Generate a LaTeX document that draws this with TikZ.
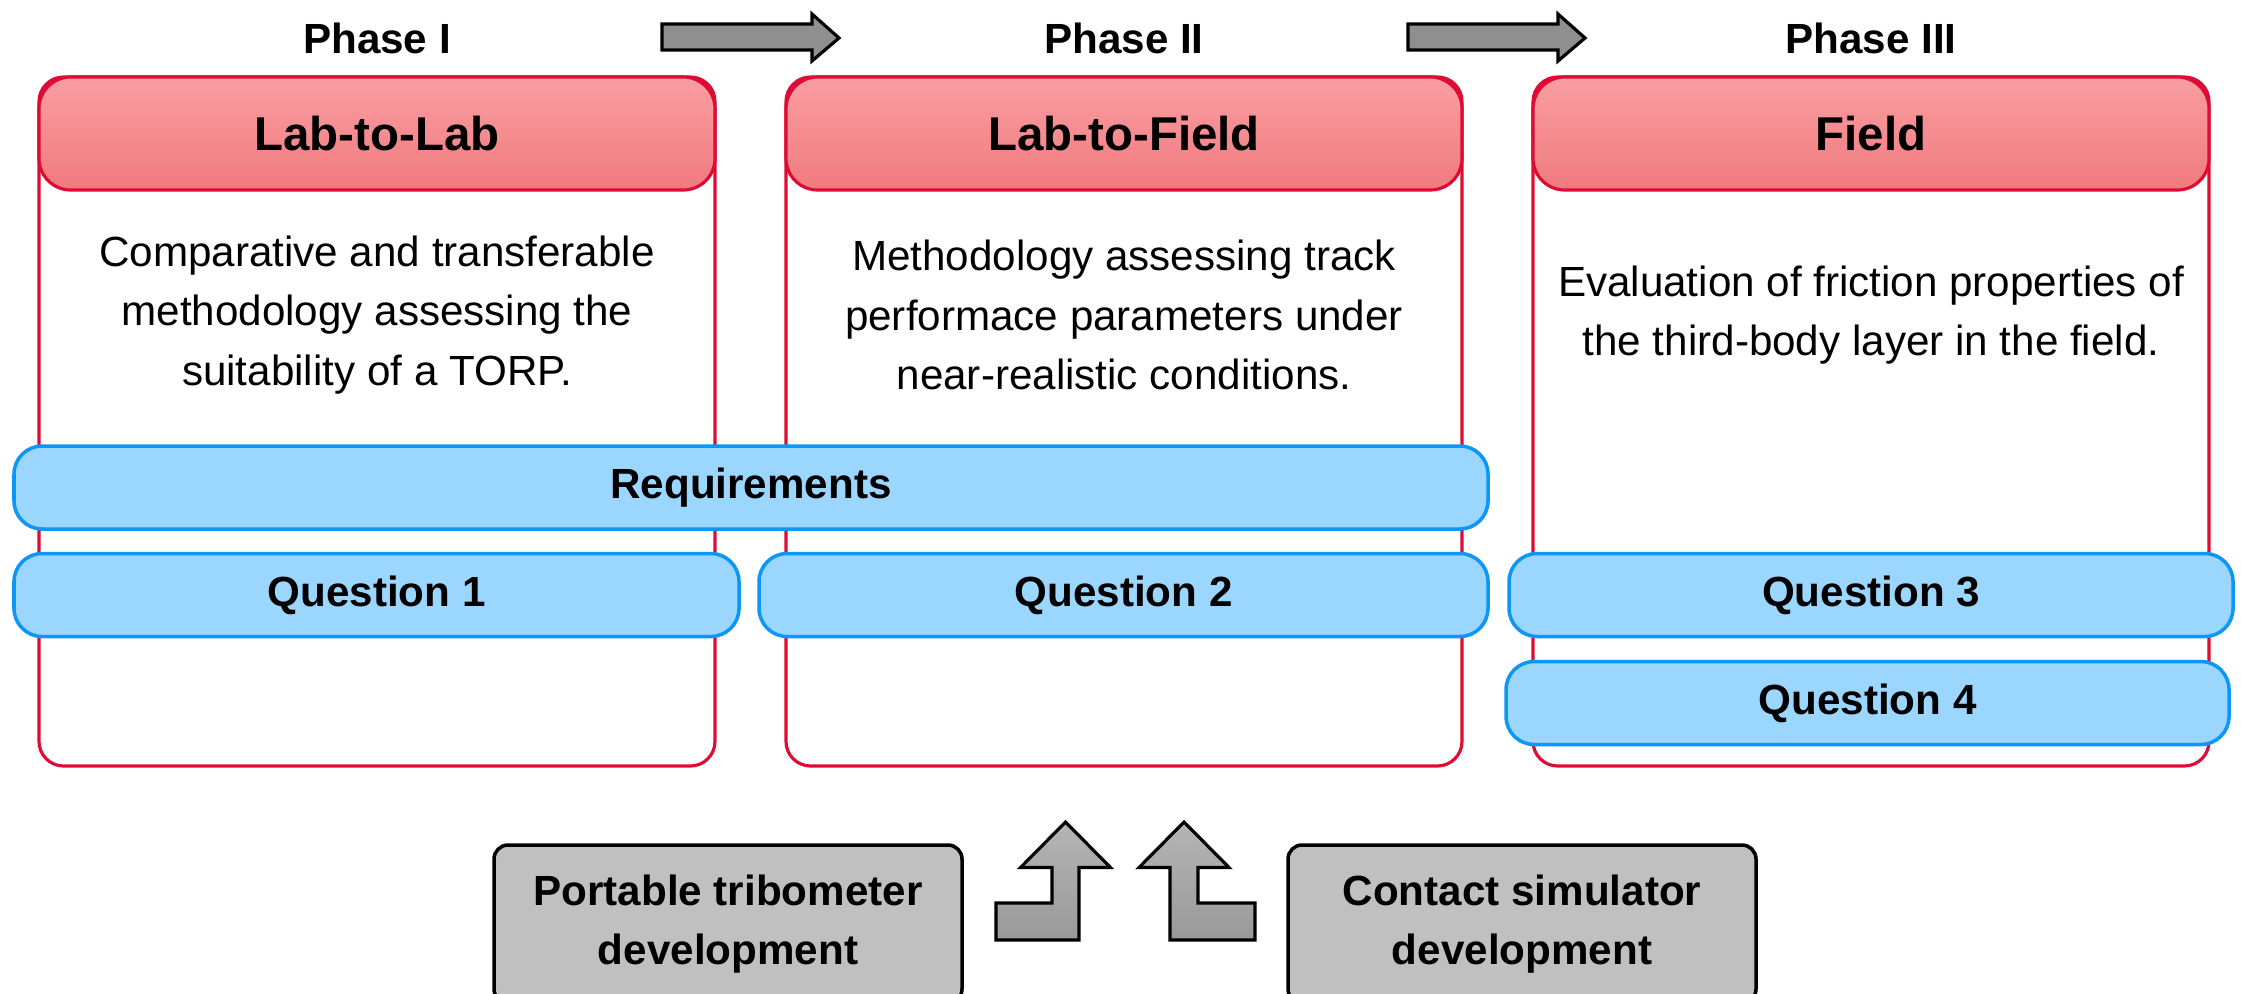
\documentclass[tikz,border=0pt]{standalone}
\usepackage{fontspec}
\setmainfont{Liberation Sans}
\usetikzlibrary{positioning}

\definecolor{phasered}{RGB}{222,12,52}
\definecolor{headtop}{RGB}{249,158,162}
\definecolor{headbot}{RGB}{240,122,126}
\definecolor{qfill}{RGB}{155,214,255}
\definecolor{qline}{RGB}{12,150,245}
\definecolor{devgray}{RGB}{192,192,192}

\begin{document}
\begin{tikzpicture}[
    x=1cm, y=-1cm,
    font=\fontsize{12}{17}\selectfont,
    every node/.style={align=center},
    box/.style={inner sep=0pt, outer sep=0pt},
    phasebox/.style={box, draw=phasered, line width=0.9pt, fill=white, rounded corners=7pt,
        minimum width=6.76cm, minimum height=6.89cm},
    header/.style={box, draw=phasered, line width=0.9pt, top color=headtop, bottom color=headbot,
        rounded corners=9pt, minimum width=6.76cm, minimum height=1.13cm,
        font=\fontsize{13.5}{16}\selectfont\bfseries},
    phase/.style={box, font=\fontsize{12}{14}\selectfont\bfseries},
    body/.style={box},
    req/.style={box, draw=qline, line width=1pt, fill=qfill, rounded corners=8pt,
        minimum height=0.83cm, font=\fontsize{12}{14}\selectfont\bfseries},
    question/.style={req, minimum width=7.25cm},
    devbox/.style={box, draw=black, line width=1pt, fill=devgray, rounded corners=4pt,
        minimum width=4.68cm, minimum height=1.58cm, font=\fontsize{12}{16.8}\selectfont\bfseries},
    blockarr/.style={draw=black, line width=0.9pt, fill=black!44, line join=miter},
    uparr/.style={draw=black, line width=0.9pt, top color=black!29, bottom color=black!40, line join=miter},
]
\useasboundingbox (0,0) rectangle (22.41,9.93);

% --- Phase boxes ---
\node[phasebox] (box1) at (3.77,4.215) {};
\node[phasebox] (box2) [right=0.71cm of box1] {};
\node[phasebox] (box3) [right=0.71cm of box2] {};

\node[header, anchor=north] (head1) at (box1.north) {Lab-to-Lab};
\node[header, anchor=north] (head2) at (box2.north) {Lab-to-Field};
\node[header, anchor=north] (head3) at (box3.north) {Field};

\node[phase] (ph1) [above=2.3mm of head1] {Phase I};
\node[phase] (ph2) [above=2.3mm of head2] {Phase II};
\node[phase] (ph3) [above=2.3mm of head3] {Phase III};

% --- Descriptions ---
\node[body] (txt1) at (box1.center |- 0,3.15) {Comparative and transferable\\ methodology assessing the\\ suitability of a TORP.};
\node[body] (txt2) at (box2.center |- 0,3.15) {Methodology assessing track\\ performace parameters under\\ near-realistic conditions.};
\node[body] (txt3) at (box3.center |- 0,3.15) {Evaluation of friction properties of\\ the third-body layer in the field.};

% --- Phase arrows ---
\coordinate (arr1) at (6.62,0.24);
\coordinate (arr2) at (14.08,0.24);
\foreach \a in {arr1,arr2}
  \draw[blockarr] (\a) -- ++(1.50,0) -- ++(0,-0.10) -- ++(0.27,0.24) -- ++(-0.27,0.23)
      -- ++(0,-0.11) -- ++(-1.50,0) -- cycle;

% --- Requirements & questions ---
\node[req, minimum width=14.74cm] (req) at (7.51,4.875) {Requirements};
\node[question] (q1) at (3.765,5.95) {Question 1};
\node[question, minimum width=7.29cm] (q2) [right=2mm of q1] {Question 2};
\node[question, minimum width=7.24cm] (q3) [right=2.1mm of q2] {Question 3};
\node[question, minimum width=7.23cm] (q4) [below=2.5mm of q3, xshift=-0.35mm] {Question 4};

% --- Development inputs ---
\node[devbox] (devA) at (7.28,9.24) {Portable tribometer\\ development};
\node[devbox] (devB) [right=3.26cm of devA] {Contact simulator\\ development};

\coordinate (tipA) at (10.655,8.22);
\coordinate (tipB) at (11.84,8.22);
\draw[uparr] (tipA) -- ++(0.45,0.455) -- ++(-0.315,0) -- ++(0,0.725) -- ++(-0.83,0)
    -- ++(0,-0.37) -- ++(0.56,0) -- ++(0,-0.355) -- ++(-0.315,0) -- cycle;
\draw[uparr] (tipB) -- ++(-0.45,0.455) -- ++(0.31,0) -- ++(0,0.725) -- ++(0.85,0)
    -- ++(0,-0.37) -- ++(-0.57,0) -- ++(0,-0.355) -- ++(0.31,0) -- cycle;

\end{tikzpicture}
\end{document}
